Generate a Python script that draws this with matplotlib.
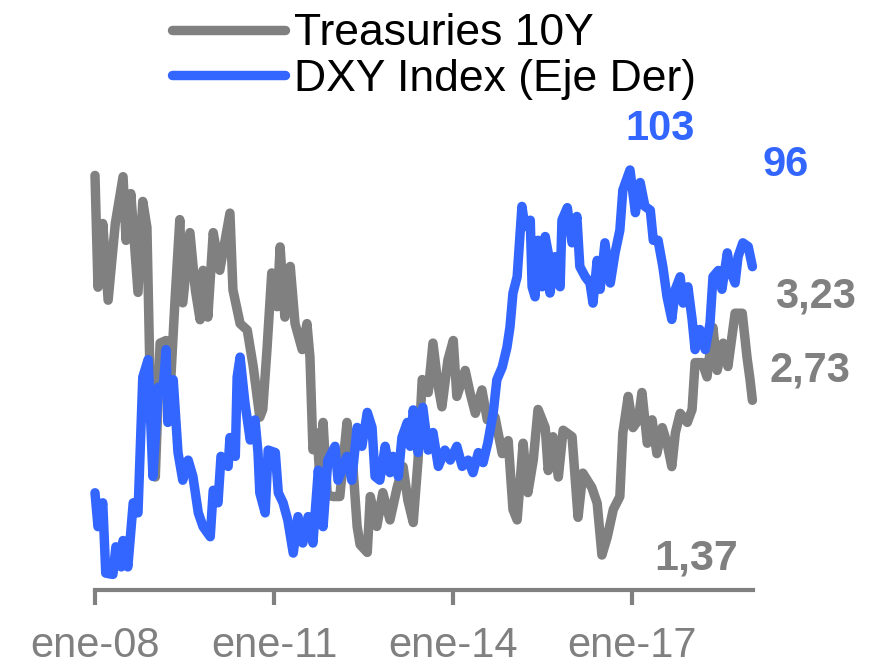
import matplotlib.pyplot as plt

plt.rcParams['font.family'] = ['Liberation Sans', 'DejaVu Sans']

# Treasuries 10Y (left axis, hidden)
ust_t = [2008.00, 2008.05, 2008.13, 2008.22, 2008.34, 2008.47, 2008.52, 2008.60, 2008.72, 2008.80,
         2008.87, 2008.92, 2009.01, 2009.09, 2009.19, 2009.26, 2009.34, 2009.42, 2009.47, 2009.59,
         2009.68, 2009.76, 2009.81, 2009.89, 2009.98, 2010.09, 2010.21, 2010.26, 2010.31, 2010.43,
         2010.55, 2010.65, 2010.76, 2010.81, 2010.88, 2010.96, 2011.05, 2011.10, 2011.18, 2011.27,
         2011.35, 2011.47, 2011.55, 2011.60, 2011.65, 2011.72, 2011.77, 2011.82, 2011.89, 2011.99,
         2012.10, 2012.22, 2012.27, 2012.32, 2012.39, 2012.44, 2012.56, 2012.61, 2012.72, 2012.82,
         2012.94, 2013.06, 2013.16, 2013.24, 2013.33, 2013.41, 2013.48, 2013.58, 2013.66, 2013.75,
         2013.81, 2013.91, 2014.00, 2014.06, 2014.20, 2014.28, 2014.37, 2014.48, 2014.57, 2014.70,
         2014.82, 2014.92, 2015.00, 2015.07, 2015.17, 2015.25, 2015.34, 2015.42, 2015.54, 2015.59,
         2015.67, 2015.76, 2015.84, 2015.99, 2016.09, 2016.17, 2016.32, 2016.41, 2016.49, 2016.58,
         2016.68, 2016.79, 2016.84, 2016.93, 2017.01, 2017.10, 2017.16, 2017.25, 2017.33, 2017.41,
         2017.50, 2017.58, 2017.66, 2017.72, 2017.80, 2017.92, 2018.00, 2018.05, 2018.17, 2018.25,
         2018.35, 2018.42, 2018.52, 2018.60, 2018.72, 2018.84, 2018.92, 2018.97, 2019.01]
ust = [4.29, 3.43, 3.92, 3.33, 3.92, 4.28, 3.79, 4.15, 3.39, 4.09,
       3.89, 2.77, 1.97, 3.00, 3.02, 2.64, 3.33, 3.95, 3.31, 3.85,
       3.41, 3.18, 3.56, 3.20, 3.85, 3.56, 3.87, 4.00, 3.41, 3.15,
       3.10, 2.82, 2.43, 2.49, 2.95, 3.54, 3.28, 3.74, 3.20, 3.59,
       3.15, 2.95, 3.15, 2.89, 2.18, 2.31, 1.92, 2.39, 1.83, 1.82,
       1.82, 2.39, 2.10, 2.05, 1.59, 1.45, 1.39, 1.82, 1.59, 1.85,
       1.64, 1.89, 2.05, 1.79, 1.62, 2.10, 2.72, 2.62, 3.00, 2.66,
       2.51, 2.87, 3.02, 2.59, 2.79, 2.62, 2.46, 2.64, 2.41, 2.43,
       2.15, 2.25, 1.72, 1.64, 2.23, 1.85, 2.10, 2.49, 2.35, 2.02,
       2.28, 1.97, 2.33, 2.28, 1.66, 2.00, 1.89, 1.77, 1.37, 1.51,
       1.72, 1.82, 2.31, 2.59, 2.35, 2.41, 2.62, 2.23, 2.41, 2.15,
       2.35, 2.23, 2.05, 2.31, 2.46, 2.39, 2.49, 2.85, 2.85, 2.74,
       3.12, 2.79, 3.00, 2.82, 3.23, 3.23, 2.89, 2.72, 2.56]

# DXY Index (right axis, hidden)
dxy_t = [2008.00, 2008.05, 2008.13, 2008.18, 2008.30, 2008.35, 2008.44, 2008.47, 2008.55, 2008.64,
         2008.72, 2008.75, 2008.80, 2008.89, 2008.97, 2009.06, 2009.14, 2009.19, 2009.22, 2009.31,
         2009.39, 2009.47, 2009.56, 2009.64, 2009.73, 2009.81, 2009.93, 2009.98, 2010.06, 2010.11,
         2010.23, 2010.26, 2010.35, 2010.38, 2010.43, 2010.51, 2010.60, 2010.68, 2010.73, 2010.76,
         2010.85, 2010.90, 2011.02, 2011.07, 2011.15, 2011.23, 2011.32, 2011.40, 2011.48, 2011.57,
         2011.65, 2011.74, 2011.82, 2011.90, 2012.02, 2012.07, 2012.22, 2012.30, 2012.39, 2012.47,
         2012.56, 2012.64, 2012.69, 2012.77, 2012.86, 2012.94, 2012.99, 2013.08, 2013.14, 2013.23,
         2013.28, 2013.33, 2013.41, 2013.49, 2013.58, 2013.66, 2013.75, 2013.86, 2013.95, 2014.06,
         2014.15, 2014.25, 2014.33, 2014.42, 2014.50, 2014.58, 2014.67, 2014.73, 2014.82, 2014.90,
         2014.95, 2015.00, 2015.07, 2015.15, 2015.20, 2015.29, 2015.32, 2015.37, 2015.42, 2015.49,
         2015.54, 2015.59, 2015.62, 2015.71, 2015.79, 2015.82, 2015.91, 2015.99, 2016.07, 2016.12,
         2016.21, 2016.29, 2016.34, 2016.41, 2016.46, 2016.54, 2016.63, 2016.71, 2016.79, 2016.84,
         2016.96, 2017.05, 2017.13, 2017.21, 2017.30, 2017.35, 2017.43, 2017.51, 2017.58, 2017.66,
         2017.72, 2017.80, 2017.85, 2017.93, 2018.00, 2018.05, 2018.13, 2018.22, 2018.30, 2018.35,
         2018.44, 2018.50, 2018.59, 2018.64, 2018.72, 2018.77, 2018.85, 2018.94, 2019.01]
dxy = [77.6, 74.9, 76.8, 71.2, 71.1, 73.3, 71.7, 73.8, 71.7, 76.8,
       76.0, 80.0, 86.8, 88.2, 78.9, 86.0, 85.8, 89.0, 83.2, 86.6,
       80.8, 78.6, 80.2, 78.9, 76.0, 74.9, 74.1, 77.8, 76.8, 80.5,
       79.7, 82.0, 80.5, 86.8, 88.4, 84.8, 81.8, 83.4, 80.8, 77.6,
       76.0, 81.0, 80.8, 77.6, 76.8, 75.4, 72.8, 75.7, 73.6, 75.7,
       73.6, 79.4, 74.9, 80.2, 81.3, 78.6, 80.5, 78.6, 82.8, 81.3,
       84.0, 82.8, 78.9, 78.6, 81.3, 79.2, 80.5, 78.9, 82.0, 83.2,
       81.3, 84.2, 80.8, 84.4, 81.0, 82.4, 79.7, 81.0, 80.2, 81.3,
       79.7, 80.2, 79.2, 80.8, 80.0, 81.6, 84.0, 86.6, 87.6, 89.2,
       90.8, 93.5, 94.8, 100.4, 98.8, 99.3, 94.0, 93.2, 97.7, 94.0,
       98.0, 96.7, 93.5, 96.4, 94.0, 99.3, 100.3, 97.5, 99.6, 95.6,
       94.8, 94.3, 92.7, 96.1, 93.8, 97.5, 94.3, 96.7, 98.5, 101.7,
       103.3, 99.9, 102.3, 100.4, 100.1, 97.7, 97.7, 95.6, 93.2, 91.4,
       93.8, 94.8, 92.7, 94.0, 91.4, 89.0, 90.6, 89.0, 91.1, 94.8,
       95.3, 93.8, 96.7, 95.3, 94.3, 96.4, 97.5, 97.2, 95.6]

tick_pos = [2008, 2011, 2014, 2017]
tick_lbl = ['ene-08', 'ene-11', 'ene-14', 'ene-17']

gray = '#808080'
blue = '#3366FF'

fig = plt.figure(figsize=(8.78, 6.68), dpi=100)
ax = fig.add_axes([95/878, 78/668, 658/878, 490/668])
ax2 = ax.twinx()

l1, = ax.plot(ust_t, ust, color=gray, lw=6.8, solid_capstyle='round',
              solid_joinstyle='round', clip_on=False, label='Treasuries 10Y')
l2, = ax2.plot(dxy_t, dxy, color=blue, lw=6.8, solid_capstyle='round',
               solid_joinstyle='round', clip_on=False, label='DXY Index (Eje Der)')

ax.set_xlim(2008.0, 2019.02)
ax.set_ylim(1.101, 4.87)
ax2.set_ylim(69.86, 108.87)

for a in (ax, ax2):
    for s in ['left', 'right', 'top']:
        a.spines[s].set_visible(False)
    a.set_yticks([])
ax2.spines['bottom'].set_visible(False)
ax.spines['bottom'].set_color(gray)
ax.spines['bottom'].set_linewidth(3)

ax.set_xticks(tick_pos)
ax.set_xticklabels(tick_lbl)
ax.tick_params(axis='x', direction='out', length=11, width=3, color=gray,
               labelcolor=gray, labelsize=30, pad=15)

# value labels
ax2.text(2017.46, 106.6, '103', color=blue, fontsize=30, fontweight='bold',
         ha='center', va='center')
ax2.text(2019.56, 103.7, '96', color=blue, fontsize=30, fontweight='bold',
         ha='center', va='center')
ax.text(2020.06, 3.36, '3,23', color=gray, fontsize=30, fontweight='bold',
        ha='center', va='center')
ax.text(2019.98, 2.79, '2,73', color=gray, fontsize=30, fontweight='bold',
        ha='center', va='center')
ax.text(2018.06, 1.34, '1,37', color=gray, fontsize=31, fontweight='bold',
        ha='center', va='center')

fig.legend(handles=[l1, l2], loc='upper left', bbox_to_anchor=(172/878, 0.98),
           frameon=False, fontsize=32, handlelength=2.55, handletextpad=0.2,
           labelspacing=0.1, borderpad=0, borderaxespad=0)

fig.savefig('out.png', dpi=100)
